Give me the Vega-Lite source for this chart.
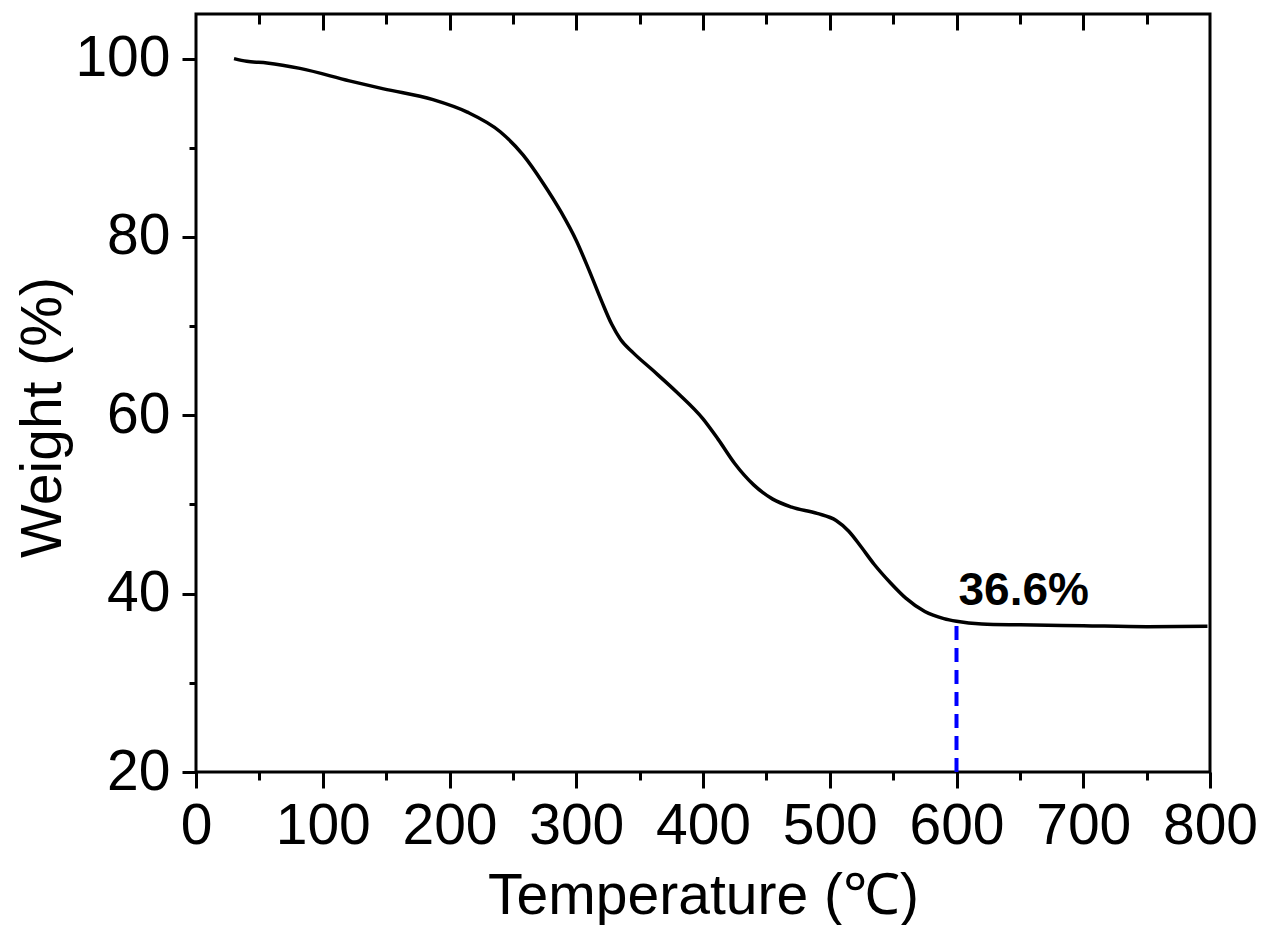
{
  "$schema": "https://vega.github.io/schema/vega-lite/v6.json",
  "width": 1014,
  "height": 758,
  "autosize": {"type": "none"},
  "padding": {"left": 196, "top": 14, "right": 54, "bottom": 153},
  "background": "white",
  "config": {
    "view": {"stroke": "black", "strokeWidth": 3},
    "font": "Liberation Sans",
    "axis": {
      "grid": false,
      "domain": false,
      "tickColor": "black",
      "tickWidth": 3,
      "labelColor": "black",
      "titleColor": "black",
      "labelFont": "Liberation Sans",
      "titleFont": "Liberation Sans",
      "labelFontSize": 57,
      "titleFontSize": 57,
      "labelFontWeight": "normal",
      "titleFontWeight": "normal"
    }
  },
  "data": {
    "values": [
      {"T": 30, "W": 100.0},
      {"T": 40, "W": 99.7},
      {"T": 56, "W": 99.5},
      {"T": 82, "W": 98.9},
      {"T": 121, "W": 97.5},
      {"T": 148, "W": 96.6},
      {"T": 187, "W": 95.4},
      {"T": 214, "W": 94.0},
      {"T": 240, "W": 91.8},
      {"T": 258, "W": 89.2},
      {"T": 274, "W": 86.0},
      {"T": 288, "W": 82.8},
      {"T": 300, "W": 79.6},
      {"T": 310, "W": 76.3},
      {"T": 320, "W": 72.8},
      {"T": 328, "W": 70.2},
      {"T": 335, "W": 68.5},
      {"T": 345, "W": 67.0},
      {"T": 360, "W": 65.1},
      {"T": 380, "W": 62.5},
      {"T": 400, "W": 59.6},
      {"T": 412, "W": 57.3},
      {"T": 425, "W": 54.6},
      {"T": 440, "W": 52.2},
      {"T": 455, "W": 50.6},
      {"T": 470, "W": 49.7},
      {"T": 490, "W": 49.0},
      {"T": 505, "W": 48.2},
      {"T": 515, "W": 47.0},
      {"T": 525, "W": 45.2},
      {"T": 535, "W": 43.3},
      {"T": 548, "W": 41.2},
      {"T": 560, "W": 39.5},
      {"T": 575, "W": 38.0},
      {"T": 590, "W": 37.2},
      {"T": 600, "W": 36.9},
      {"T": 620, "W": 36.6},
      {"T": 650, "W": 36.5},
      {"T": 700, "W": 36.4},
      {"T": 750, "W": 36.3},
      {"T": 798, "W": 36.35}
    ]
  },
  "resolve": {"axis": {"x": "independent", "y": "independent"}},
  "layer": [
    {
      "mark": {"type": "line", "color": "black", "strokeWidth": 3.5, "interpolate": "monotone"},
      "encoding": {
        "x": {
          "field": "T", "type": "quantitative",
          "scale": {"domain": [0, 800], "nice": false, "zero": false},
          "axis": {
            "orient": "bottom",
            "values": [0, 100, 200, 300, 400, 500, 600, 700, 800],
            "tickSize": 16,
            "labelPadding": 10,
            "labelFlush": false,
            "labelOverlap": false,
            "title": "Temperature (℃)",
            "titleBaseline": "alphabetic",
            "titleY": 141
          }
        },
        "y": {
          "field": "W", "type": "quantitative",
          "scale": {"domain": [20, 105], "nice": false, "zero": false},
          "axis": {
            "orient": "left",
            "values": [20, 40, 60, 80, 100],
            "tickSize": 14,
            "labelPadding": 12,
            "labelFlush": false,
            "labelOverlap": false,
            "title": "Weight (%)",
            "titleAngle": 270,
            "titleAlign": "center",
            "titleBaseline": "alphabetic",
            "titleX": -136,
            "titleY": 403
          }
        }
      }
    },
    {
      "data": {"values": [{"T": 600, "W0": 20, "W1": 36.8}]},
      "mark": {"type": "rule", "color": "#0000FF", "strokeWidth": 4, "strokeDash": [14, 8]},
      "encoding": {
        "x": {
          "field": "T", "type": "quantitative",
          "axis": {
            "orient": "bottom",
            "values": [50, 150, 250, 350, 450, 550, 650, 750],
            "tickSize": 8,
            "labels": false,
            "title": null
          }
        },
        "y": {
          "field": "W0", "type": "quantitative",
          "axis": {
            "orient": "left",
            "values": [30, 50, 70, 90],
            "tickSize": 7,
            "labels": false,
            "title": null
          }
        },
        "y2": {"field": "W1"}
      }
    },
    {
      "data": {"values": [{"T": 600, "W": 36.6, "label": "36.6%"}]},
      "mark": {"type": "text", "align": "left", "baseline": "alphabetic", "dx": 2, "dy": -19, "fontSize": 46, "fontWeight": "bold", "font": "Liberation Sans", "color": "black"},
      "encoding": {
        "x": {
          "field": "T", "type": "quantitative",
          "axis": {
            "orient": "top",
            "values": [100, 200, 300, 400, 500, 600, 700],
            "tickSize": -16,
            "labels": false,
            "title": null
          }
        },
        "y": {"field": "W", "type": "quantitative", "axis": null},
        "text": {"field": "label"}
      }
    },
    {
      "mark": {"type": "point", "opacity": 0},
      "encoding": {
        "x": {
          "field": "T", "type": "quantitative",
          "axis": {
            "orient": "top",
            "values": [50, 150, 250, 350, 450, 550, 650, 750],
            "tickSize": -10,
            "labels": false,
            "title": null
          }
        },
        "y": {"field": "W", "type": "quantitative", "axis": null}
      }
    }
  ]
}
